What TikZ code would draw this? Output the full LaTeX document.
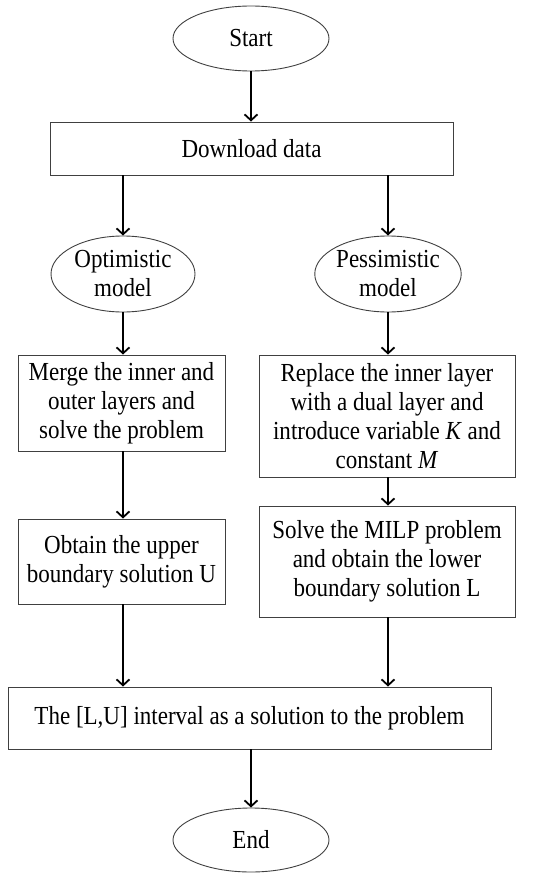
\documentclass[tikz,border=0pt]{standalone}
\usepackage{fontspec}
\setmainfont[FakeStretch=0.885]{Liberation Serif}
\usetikzlibrary{shapes.geometric,arrows.meta}
\begin{document}
\begin{tikzpicture}[x=1pt,y=-1pt,
  txt/.style={font=\fontsize{26}{29}\selectfont, align=center, inner sep=0pt},
  boxnode/.style={txt, draw=black!75, line width=0.9pt, rectangle},
  ovalnode/.style={txt, draw=black!75, line width=0.9pt, ellipse},
  flow/.style={line width=1.8pt, -{Straight Barb[length=6pt,width=13pt,line width=1.8pt]}}]
\useasboundingbox (0,0) rectangle (550,880);
\node[ovalnode, minimum width=156pt, minimum height=65pt] (start) at (251,38.5) {Start};
\node[boxnode, minimum width=403pt, minimum height=53pt] (dl) at (251.5,148.5) {Download data};
\node[ovalnode, minimum width=144pt, minimum height=76pt] (opt) at (123,274) {Optimistic\\model};
\node[ovalnode, minimum width=144pt, minimum height=76pt] (pes) at (388,274) {Pessimistic\\model};
\node[boxnode, minimum width=207pt, minimum height=96pt] (merge) at (121.5,403) {Merge the inner and\\outer layers and\\solve the problem};
\node[boxnode, minimum width=256pt, minimum height=122pt] (repl) at (387,416) {Replace the inner layer\\with a dual layer and\\introduce variable \textit{K} and\\constant \textit{M}};
\node[boxnode, minimum width=207pt, minimum height=85pt] (upper) at (121.5,561.5) {Obtain the upper\\boundary solution U};
\node[boxnode, minimum width=256pt, minimum height=111pt] (milp) at (387,561.5) {Solve the MILP problem\\and obtain the lower\\boundary solution L};
\node[boxnode, minimum width=483pt, minimum height=62pt] (res) at (249.5,718) {The [L,U] interval as a solution to the problem};
\node[ovalnode, minimum width=156pt, minimum height=64pt] (end) at (251,840) {End};
\draw[flow] (start.south) -- (start.south |- dl.north);
\draw[flow] (dl.south -| opt.north) -- (opt.north);
\draw[flow] (dl.south -| pes.north) -- (pes.north);
\draw[flow] (opt.south) -- (opt.south |- merge.north);
\draw[flow] (pes.south) -- (pes.south |- repl.north);
\draw[flow] (merge.south -| opt.south) -- (upper.north -| opt.south);
\draw[flow] (repl.south -| pes.south) -- (milp.north -| pes.south);
\draw[flow] (upper.south -| opt.south) -- (res.north -| opt.south);
\draw[flow] (milp.south -| pes.south) -- (res.north -| pes.south);
\draw[flow] (res.south -| start.south) -- (end.north);
\end{tikzpicture}
\end{document}
